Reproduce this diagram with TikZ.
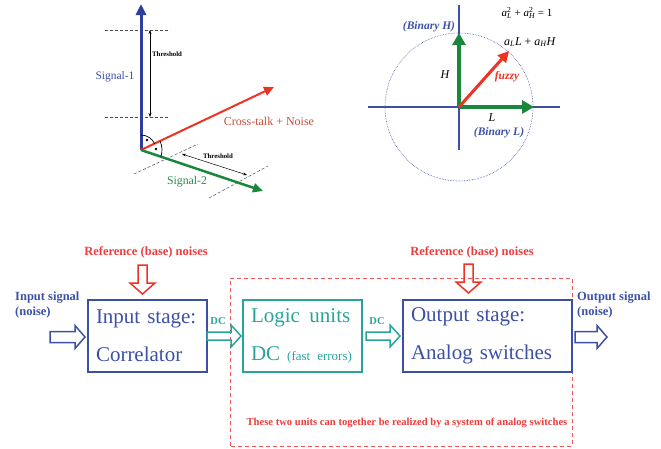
\documentclass[tikz,border=0pt]{standalone}
\usepackage{fontspec}
\setmainfont{Liberation Serif}
\usetikzlibrary{arrows.meta}
\definecolor{sigblue}{RGB}{45,62,155}
\definecolor{txtblue}{RGB}{60,80,165}
\definecolor{sigred}{RGB}{238,50,36}
\definecolor{siggreen}{RGB}{25,135,60}
\definecolor{tealc}{RGB}{40,165,155}
\definecolor{redtxt}{RGB}{238,60,60}
\definecolor{brownred}{RGB}{195,80,60}
\definecolor{sig2txt}{RGB}{40,140,80}
% hollow block arrow pointing right: style, x0, x1, y, shaft half, head half, head length
\newcommand\myHArrowR[7]{\draw[#1] (#2,#4-#5) -- (#3-#7,#4-#5) -- (#3-#7,#4-#6) -- (#3,#4) -- (#3-#7,#4+#6) -- (#3-#7,#4+#5) -- (#2,#4+#5) -- cycle;}
% hollow block arrow pointing down: style, x, y0, y1, shaft half, head half, head length
\newcommand\myHArrowD[7]{\draw[#1] (#2-#5,#3) -- (#2-#5,#4-#7) -- (#2-#6,#4-#7) -- (#2,#4) -- (#2+#6,#4-#7) -- (#2+#5,#4-#7) -- (#2+#5,#3) -- cycle;}
\newcommand\mySS[2]{\rlap{\textsuperscript{#2}}\textsubscript{\itshape #1}}
\tikzset{
  fs/.style={font=\fontsize{#1}{#1}\selectfont},
  vec/.style={line width=#1, -{Triangle[length=10pt,width=9pt]}},
  thr/.style={{Stealth[length=4pt,width=3pt]}-{Stealth[length=4pt,width=3pt]}, line width=0.5pt},
  thrlabel/.style={font=\fontsize{6.8}{7}\selectfont\bfseries, inner sep=0pt},
  guide/.style={line width=0.5pt, black!70, dash pattern=on 3pt off 2pt},
  bigbox/.style={draw, line width=2pt, minimum height=72pt, inner xsep=8pt, align=left,
                 font=\fontsize{21}{38}\selectfont},
  hollowblue/.style={draw=txtblue, line width=1.5pt, line join=miter},
  hollowteal/.style={draw=tealc, line width=1.5pt, line join=miter},
  hollowred/.style={draw=sigred, line width=1.5pt, line join=miter},
  redlabel/.style={text=redtxt, font=\fontsize{12.5}{15}\selectfont\bfseries, inner sep=0pt},
  bluelabel/.style={text=txtblue, font=\fontsize{12.5}{15}\selectfont\bfseries, inner sep=0pt, align=left},
  dclabel/.style={text=tealc, font=\fontsize{10.5}{12}\selectfont\bfseries, inner sep=0pt},
}
\begin{document}
\begin{tikzpicture}[x=1pt,y=-1pt]
\useasboundingbox (0,0) rectangle (661,448);

%%%%%%%% top-left: signal vectors
\coordinate (O1) at (141,150);
\coordinate (S1) at (141,4);
\coordinate (CT) at (274,87);
\coordinate (S2) at (263,191);
% guides
\coordinate (g1a) at (105,30); \coordinate (g1b) at (170,30);
\coordinate (g2a) at (105,117); \coordinate (g2b) at (170,117);
\draw[guide] (g1a) -- (g1b);
\draw[guide] (g2a) -- (g2b);
\coordinate (t1a) at (150,30); \coordinate (t1b) at (150,117);
\draw[thr] (t1a) -- (t1b);
\node[thrlabel, anchor=west] (thr1) at (152,54) {Threshold};
\coordinate (g3a) at (134,174); \coordinate (g3b) at (198,144);
\coordinate (g4a) at (209,198); \coordinate (g4b) at (268,166);
\draw[guide] (g3a) -- (g3b);
\draw[guide] (g4a) -- (g4b);
\coordinate (t2a) at (182,154); \coordinate (t2b) at (247,175);
\draw[thr] (t2a) -- (t2b);
\node[thrlabel] (thr2) at (218,156) {Threshold};
% vectors
\draw[sigblue, line width=3pt, -{Triangle[length=11pt,width=10pt]}] (O1) -- (S1);
\draw[sigred, vec=2pt] (O1) -- (CT);
\draw[siggreen, vec=2.5pt] (O1) -- (S2);
% right angle marks
\draw[line width=0.7pt] ([shift={(0,-15)}]O1) arc[start angle=-90, end angle=-25, radius=15];
\draw[line width=0.7pt] ([shift={(-25:21)}]O1) arc[start angle=-25, end angle=18.6, radius=21];
\fill (147,140) circle (1.4);
\fill (156,149) circle (1.4);
\node[text=txtblue, fs=11.5, inner sep=0pt] (sig1) at (115,77) {Signal-1};
\node[text=brownred, fs=12, inner sep=0pt] (ctn) at (269,121) {Cross-talk + Noise};
\node[text=sig2txt, fs=11.8, inner sep=0pt] (sig2) at (187,182) {Signal-2};

%%%%%%%% top-right: binary/fuzzy
\coordinate (O2) at (459,107);
\coordinate (xl) at (368,107); \coordinate (xr) at (560,107);
\coordinate (yt) at (459,5); \coordinate (yb) at (459,150);
\draw[txtblue, line width=1.2pt] (xl) -- (xr);
\draw[txtblue, line width=1.2pt] (yt) -- (yb);
\draw[txtblue, densely dotted, line width=0.6pt] (O2) circle (74);
\coordinate (Hv) at (459,33);
\coordinate (Lv) at (534,107);
\coordinate (Fv) at (509,51);
\draw[siggreen, line width=3.5pt, -{Triangle[length=12pt,width=13pt]}] (O2) -- (Hv);
\draw[siggreen, line width=3.5pt, -{Triangle[length=12pt,width=13pt]}] (O2) -- (Lv);
\draw[sigred, line width=3pt, -{Triangle[length=11pt,width=11pt]}] (O2) -- (Fv);
\node[text=txtblue, font=\fontsize{11.5}{12}\selectfont\bfseries\itshape, inner sep=0pt] (bh) at (429,27) {(Binary H)};
\node[text=txtblue, font=\fontsize{11.5}{12}\selectfont\bfseries\itshape, inner sep=0pt] (bl) at (499,133) {(Binary L)};
\node[font=\fontsize{12}{12}\selectfont\itshape, inner sep=0pt] (hl) at (445,75) {H};
\node[font=\fontsize{12}{12}\selectfont\itshape, inner sep=0pt] (ll) at (492,118) {L};
\node[text=sigred, font=\fontsize{11.5}{12}\selectfont\bfseries\itshape, inner sep=0pt] (fz) at (507,77) {fuzzy};
\node[fs=11, inner sep=0pt] (eq1) at (527,13) {\textit{a}\mySS{L}{2} + \textit{a}\mySS{H}{2} = 1};
\node[fs=12, inner sep=0pt] (eq2) at (530,42) {\textit{a}\textsubscript{\itshape L}\textit{L} + \textit{a}\textsubscript{\itshape H}\textit{H}};

%%%%%%%% bottom: block diagram
\draw[redtxt!85, line width=0.8pt, dash pattern=on 4pt off 3pt] (230,446) -- (230,278) -- (572,278) -- (572,446) -- cycle;

\node[bigbox, draw=txtblue, text=txtblue, text width=103pt] (in) at (147.5,336) {Input stage:\\Correlator};
\node[bigbox, draw=tealc, text=tealc, text width=103pt] (logic) at (302.5,336) {\mbox{Logic\hspace{0.45em}units}\\\mbox{DC {\fontsize{13}{15}\selectfont(fast errors)}}};
\node[bigbox, draw=txtblue, text=txtblue, text width=153pt] (out) at (487.5,336) {Output stage:\\Analog switches};

\myHArrowR{hollowblue}{50}{85}{337}{5.5}{11.5}{10}
\myHArrowR{hollowteal}{207}{241}{336}{4}{11}{10}
\myHArrowR{hollowteal}{366}{400}{336}{4}{11}{10}
\myHArrowR{hollowblue}{575}{607}{337}{5.5}{11.5}{10}
\myHArrowD{hollowred}{142.5}{265}{294}{4.5}{12.5}{11}
\myHArrowD{hollowred}{468.5}{264}{293}{4.5}{12.5}{11}

\node[redlabel] (rl1) at (146,252) {Reference (base) noises};
\node[redlabel] (rl2) at (472,252) {Reference (base) noises};
\node[bluelabel, anchor=north west] (insig) at (15,292) {Input signal\\(noise)};
\node[bluelabel, anchor=north west] (outsig) at (577,292) {Output signal\\(noise)};
\node[dclabel] (dc1) at (218,321) {DC};
\node[dclabel] (dc2) at (377,321) {DC};
\node[text=redtxt, font=\fontsize{10.6}{12}\selectfont\bfseries, inner sep=0pt] (note) at (407,423) {These two units can together be realized by a system of analog switches};
\end{tikzpicture}
\end{document}
